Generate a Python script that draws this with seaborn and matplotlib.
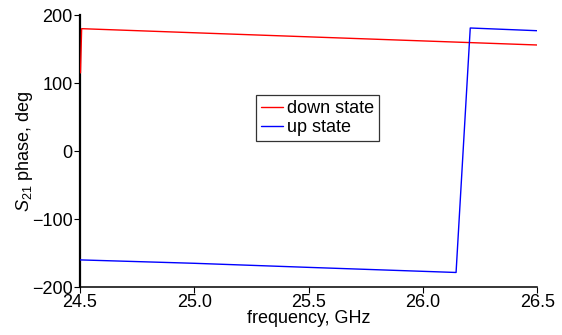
import matplotlib
matplotlib.use("Agg")
import matplotlib.pyplot as plt
import seaborn as sns
import pandas as pd

down_freq = [24.503, 24.508, 25.0, 25.5, 26.0, 26.5]
down_phase = [115, 180, 174, 168, 162, 156]

up_freq = [24.5, 25.0, 25.5, 26.145, 26.207, 26.5]
up_phase = [-160, -165, -171, -178.5, 181, 177]

sns.set_style("ticks")
plt.rcParams["font.family"] = ["Liberation Sans", "DejaVu Sans"]
plt.rcParams["mathtext.fontset"] = "custom"
plt.rcParams["mathtext.rm"] = "Liberation Sans"
plt.rcParams["mathtext.it"] = "Liberation Sans:italic"
plt.rcParams.update({"text.color": "black", "axes.labelcolor": "black",
                     "xtick.color": "black", "ytick.color": "black",
                     "axes.edgecolor": "black"})

df_down = pd.DataFrame({"freq": down_freq, "phase": down_phase})
df_up = pd.DataFrame({"freq": up_freq, "phase": up_phase})

fig = plt.figure(figsize=(5.62, 3.35), dpi=100)
ax = fig.add_axes([0.142, 0.143, 0.814, 0.812])

sns.lineplot(data=df_down, x="freq", y="phase", color="#ff0000", lw=1,
             label="down state", ax=ax, estimator=None, sort=False, zorder=3)
sns.lineplot(data=df_up, x="freq", y="phase", color="#0000ff", lw=1,
             label="up state", ax=ax, estimator=None, sort=False, zorder=3)

ax.set_xlim(24.5, 26.5)
ax.set_ylim(-200, 200)
ax.set_xticks([24.5, 25.0, 25.5, 26.0, 26.5])
ax.set_xticklabels(["24.5", "25.0", "25.5", "26.0", "26.5"])
ax.set_yticks([-200, -100, 0, 100, 200])
ax.tick_params(labelsize=13, length=4, width=0.8, direction="out", pad=1)
ax.set_xlabel("frequency, GHz", fontsize=13, labelpad=-1)
ax.set_ylabel("$S_{21}$ phase, deg", fontsize=13, labelpad=-2)
sns.despine(ax=ax)
ax.spines["left"].set_linewidth(1.6)
ax.spines["bottom"].set_linewidth(1.1)

leg = ax.legend(loc="center", bbox_to_anchor=(0.52, 0.621), fontsize=13,
                fancybox=False, frameon=True, edgecolor="black",
                handlelength=1.2, handletextpad=0.2, borderpad=0.3,
                borderaxespad=0, labelspacing=0.1)
leg.get_frame().set_linewidth(0.9)

fig.savefig("out.png", dpi=100)
